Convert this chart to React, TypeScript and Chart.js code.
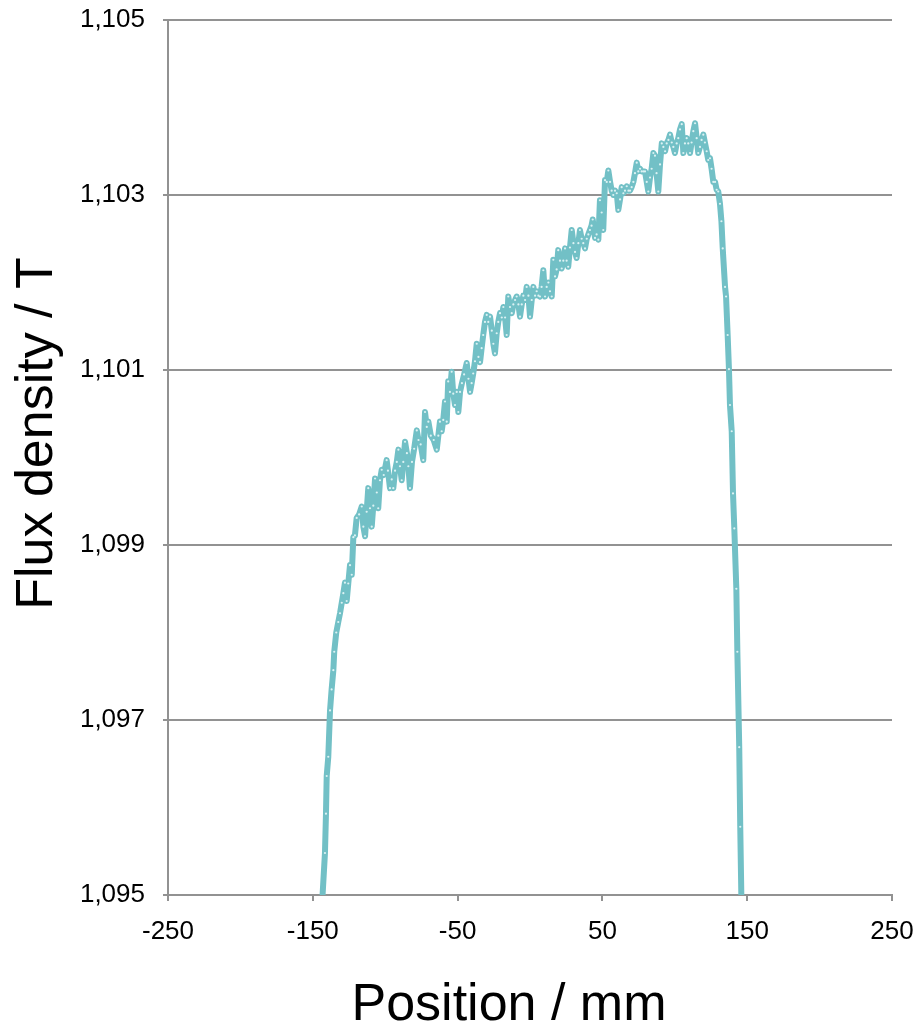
import React, { useEffect, useRef } from "react";
import { Chart, registerables } from "chart.js";

Chart.register(...registerables);

// Measurement positions along the magnet axis (mm)
const positionMm: number[] = [
  -143.6, -141.6, -140.9, -140.4, -139.3, -138.1, -137.0, -135.8, -135.2, -133.8,
  -132.4, -131.2, -130.0, -128.9, -127.8, -126.6, -125.5, -124.3, -123.1, -122.0,
  -120.9, -119.7, -118.0, -116.2, -115.1, -113.9, -112.8, -111.7, -110.5, -109.3,
  -108.2, -107.0, -105.8, -104.8, -103.6, -102.4, -101.0, -99.0, -98.1, -96.7,
  -95.5, -94.4, -93.2, -92.0, -90.9, -89.8, -88.6, -87.5, -86.3, -85.0,
  -84.0, -82.9, -81.5, -80.0, -78.2, -77.0, -75.5, -73.7, -72.5, -71.3,
  -70.2, -68.5, -66.5, -64.4, -63.3, -62.2, -61.0, -59.9, -58.7, -57.5,
  -56.5, -55.3, -54.1, -53.0, -51.8, -50.6, -49.5, -48.3, -47.0, -45.5,
  -43.7, -42.5, -41.4, -40.3, -39.2, -38.0, -36.8, -35.6, -34.5, -33.4,
  -32.3, -31.1, -29.9, -28.8, -27.6, -26.4, -25.3, -24.2, -23.0, -21.9,
  -20.7, -19.5, -18.4, -17.2, -16.1, -15.0, -13.8, -12.6, -11.5, -10.3,
  -9.2, -8.0, -6.9, -5.7, -4.6, -3.4, -2.3, -1.1, 0.0, 1.2,
  2.3, 3.5, 4.6, 5.8, 6.9, 8.0, 9.2, 10.4, 11.5, 12.7,
  13.8, 15.0, 16.1, 17.3, 18.4, 19.5, 20.7, 21.9, 23.0, 24.2,
  25.3, 26.4, 27.6, 28.8, 30.0, 31.1, 32.2, 33.4, 34.5, 35.7,
  36.8, 38.0, 39.2, 40.3, 41.4, 42.5, 43.3, 44.9, 46.0, 47.2,
  48.3, 49.5, 50.6, 51.8, 53.0, 54.1, 55.3, 56.4, 57.5, 58.7,
  59.9, 61.0, 62.2, 63.3, 64.5, 65.6, 66.8, 68.0, 69.1, 70.2,
  71.4, 72.5, 73.7, 74.8, 76.0, 77.1, 78.3, 79.4, 80.6, 81.7,
  82.9, 84.0, 85.2, 86.3, 87.4, 88.6, 89.8, 91.0, 92.1, 93.3,
  94.4, 95.6, 96.7, 97.9, 99.0, 100.1, 101.3, 102.4, 103.6, 104.8,
  105.9, 107.0, 108.2, 109.3, 110.5, 111.6, 112.8, 114.0, 115.1, 116.2,
  117.4, 118.5, 119.7, 120.8, 122.0, 123.1, 124.3, 125.4, 126.6, 127.8,
  128.9, 130.0, 131.2, 132.2, 133.1, 134.7, 135.4, 136.5, 137.4, 138.1,
  139.3, 140.2, 141.1, 142.5, 143.2, 144.5, 145.2, 146.0,
];

// Measured flux density at each position (T)
const fluxT: number[] = [
  1.0949, 1.09548, 1.09593, 1.09636, 1.09658, 1.09711, 1.09735, 1.09757, 1.09778, 1.098,
  1.09812, 1.09822, 1.09834, 1.09845, 1.09857, 1.09836, 1.09856, 1.09877, 1.09866, 1.09909,
  1.09911, 1.09931, 1.09935, 1.09944, 1.09921, 1.0991, 1.09938, 1.09965, 1.09942, 1.09921,
  1.09945, 1.09976, 1.0996, 1.09942, 1.09974, 1.09986, 1.0998, 1.09997, 1.09985, 1.09965,
  1.09975, 1.09965, 1.09985, 1.09995, 1.10009, 1.0999, 1.09974, 1.09995, 1.10018, 1.10005,
  1.0999, 1.09965, 1.09995, 1.1001, 1.10031, 1.1002, 1.10015, 1.09997, 1.10052, 1.10035,
  1.10041, 1.10025, 1.1002, 1.10009, 1.10025, 1.10041, 1.1003, 1.10043, 1.10064, 1.10041,
  1.10087, 1.10075, 1.10098, 1.10073, 1.1006, 1.10075, 1.10052, 1.10075, 1.10085, 1.10095,
  1.10108, 1.1009, 1.10075, 1.10085, 1.10096, 1.1011, 1.1013, 1.10115, 1.10109, 1.10125,
  1.1014, 1.10155, 1.10163, 1.10155, 1.10161, 1.10145, 1.1013, 1.10119, 1.10142, 1.10155,
  1.10165, 1.1016, 1.10172, 1.1016, 1.1014, 1.10184, 1.10172, 1.10165, 1.10175, 1.1018,
  1.10184, 1.10175, 1.10161, 1.10175, 1.10185, 1.1018, 1.10195, 1.10185, 1.10161, 1.1018,
  1.10195, 1.10185, 1.1019, 1.10185, 1.10184, 1.10195, 1.10214, 1.10184, 1.10195, 1.102,
  1.1019, 1.10184, 1.10226, 1.10207, 1.10215, 1.10237, 1.10225, 1.10216, 1.10225, 1.10239,
  1.10225, 1.10218, 1.1024, 1.1026, 1.10245, 1.10235, 1.10228, 1.10245, 1.1026, 1.1025,
  1.10245, 1.10239, 1.1025, 1.10255, 1.1026, 1.10265, 1.10272, 1.10251, 1.10255, 1.10249,
  1.10294, 1.1028, 1.1026, 1.10317, 1.10315, 1.10328, 1.10315, 1.10305, 1.103, 1.10305,
  1.10302, 1.10283, 1.10295, 1.10309, 1.10302, 1.10305, 1.1031, 1.10305, 1.10305, 1.10309,
  1.10315, 1.10325, 1.10337, 1.10327, 1.1033, 1.10327, 1.10327, 1.10327, 1.10315, 1.10304,
  1.1032, 1.1033, 1.10348, 1.10345, 1.10325, 1.10304, 1.10335, 1.10359, 1.10355, 1.1035,
  1.10359, 1.10363, 1.10369, 1.1036, 1.10355, 1.10348, 1.10359, 1.10365, 1.10375, 1.10381,
  1.10348, 1.10359, 1.10365, 1.10359, 1.10348, 1.1036, 1.10373, 1.10382, 1.10365, 1.10348,
  1.10355, 1.10363, 1.10369, 1.1036, 1.1035, 1.1034, 1.10342, 1.1033, 1.10315, 1.10315,
  1.10306, 1.10304, 1.1029, 1.1027, 1.10239, 1.10195, 1.10184, 1.1014, 1.10101, 1.1006,
  1.1003, 1.09959, 1.09919, 1.0985, 1.09778, 1.09669, 1.09578, 1.09494,
];

// Axis ranges and tick spacing
const xRange: number[] = [-250, 250];
const xStep = 100;
const yRange: number[] = [1.095, 1.105];
const yStep = 0.002;

const xTitle = "Position / mm";
const yTitle = "Flux density / T";

const FONT = "'Liberation Sans', Arial, Helvetica, sans-serif";
const LINE_COLOR = "#72c0c6";
const GRID_COLOR = "#929292";

// Axis titles placed slightly off-centre, like the original layout
const axisTitlePlugin = {
  id: "axisTitles",
  afterDraw(chart: any) {
    const { ctx, chartArea } = chart;
    ctx.save();
    ctx.fillStyle = "#000";
    ctx.font = `52px ${FONT}`;
    ctx.textAlign = "center";
    ctx.textBaseline = "alphabetic";
    const cx = (chartArea.left + chartArea.right) / 2 - 21;
    ctx.fillText(xTitle, cx, chartArea.bottom + 125);
    const cy = (chartArea.top + chartArea.bottom) / 2 - 24;
    ctx.translate(chartArea.left - 116, cy);
    ctx.rotate(-Math.PI / 2);
    ctx.fillText(yTitle, 0, 0);
    ctx.restore();
  },
};

export default function App() {
  const canvasRef = useRef<HTMLCanvasElement | null>(null);

  useEffect(() => {
    if (!canvasRef.current) return;
    const points = positionMm.map((x, i) => ({ x, y: fluxT[i] }));

    const chart = new Chart(canvasRef.current, {
      type: "scatter",
      data: {
        datasets: [
          {
            data: points,
            showLine: true,
            borderColor: LINE_COLOR,
            borderWidth: 6,
            borderCapStyle: "round",
            borderJoinStyle: "round",
            tension: 0,
            pointRadius: 1.1,
            pointBorderWidth: 0,
            pointBackgroundColor: "rgba(226,244,245,0.95)",
            pointHoverRadius: 1,
            clip: 0,
          } as any,
        ],
      },
      options: {
        responsive: false,
        animation: false,
        events: [],
        layout: { padding: { top: 20, right: 26, left: 0, bottom: 0 } },
        plugins: {
          legend: { display: false },
          tooltip: { enabled: false },
        },
        scales: {
          x: {
            type: "linear",
            min: xRange[0],
            max: xRange[1],
            ticks: {
              stepSize: xStep,
              color: "#000",
              font: { family: FONT, size: 26 },
              padding: 15,
              maxRotation: 0,
              callback: (v: any) => String(v),
            },
            grid: {
              drawOnChartArea: false,
              drawTicks: true,
              tickLength: 6,
              color: GRID_COLOR,
              lineWidth: 2,
            },
            border: { display: true, color: GRID_COLOR, width: 2 },
            afterFit: (s: any) => {
              s.height = 131;
              s.paddingLeft = 0;
              s.paddingRight = 0;
            },
          },
          y: {
            type: "linear",
            min: yRange[0],
            max: yRange[1],
            ticks: {
              stepSize: yStep,
              color: "#000",
              font: { family: FONT, size: 26 },
              padding: 18,
              callback: (v: any) => Number(v).toFixed(3).replace(".", ","),
            },
            grid: {
              drawOnChartArea: true,
              drawTicks: true,
              tickLength: 5,
              color: GRID_COLOR,
              lineWidth: 2,
            },
            border: { display: true, color: GRID_COLOR, width: 2 },
            afterFit: (s: any) => {
              s.width = 168;
              s.paddingTop = 0;
              s.paddingBottom = 0;
            },
          },
        },
      },
      plugins: [axisTitlePlugin],
    });

    return () => chart.destroy();
  }, []);

  return (
    <div style={{ position: "absolute", left: 0, top: 0, width: 918, height: 1026, background: "#fff" }}>
      <canvas ref={canvasRef} width={918} height={1026} style={{ display: "block" }} />
    </div>
  );
}
